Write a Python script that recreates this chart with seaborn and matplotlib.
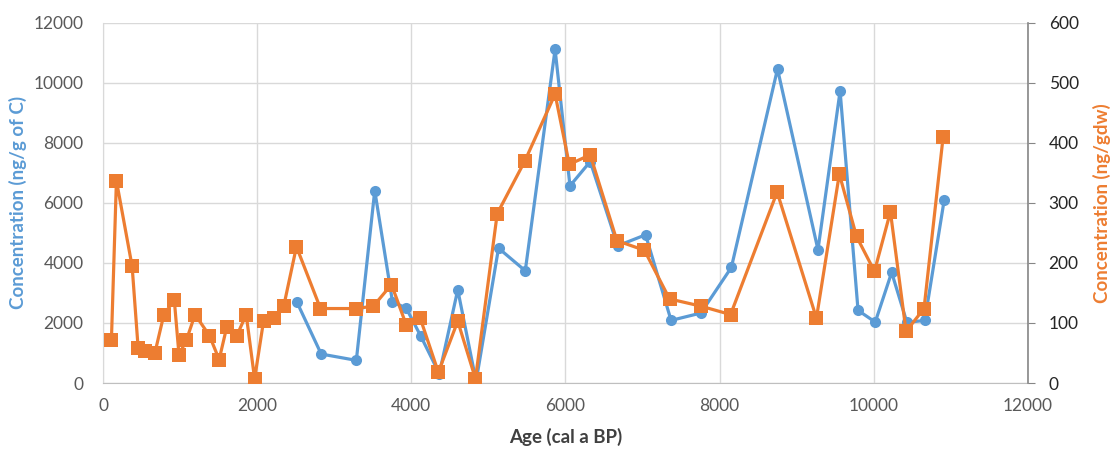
import matplotlib
matplotlib.use("Agg")
import matplotlib.pyplot as plt
import seaborn as sns
import pandas as pd

# orange series (right axis, ng/gdw)
age_gdw = [109, 174, 378, 456, 543, 673, 790, 925, 986, 1081, 1194, 1381, 1507,
           1607, 1737, 1858, 1967, 2084, 2214, 2345, 2510, 2822, 3287, 3508, 3743,
           3934, 4116, 4351, 4603, 4833, 5115, 5471, 5866, 6050, 6322, 6668, 7025,
           7351, 7757, 8143, 8747, 9257, 9554, 9777, 10010, 10217, 10420, 10653, 10901]
conc_gdw = [71, 337, 194, 58, 54, 50, 114, 138, 47, 71, 114, 79, 39,
            94, 79, 114, 7, 104, 108, 128, 227, 124, 124, 128, 164,
            97, 108, 18, 103, 7, 282, 369, 481, 364, 380, 237, 221,
            140, 128, 114, 318, 108, 348, 244, 186, 285, 86, 124, 410]

# blue series (left axis, ng/g of C)
age_c = [2518, 2831, 3287, 3526, 3756, 3934, 4125, 4364, 4603, 4841, 5132, 5479,
         5866, 6059, 6322, 6678, 7040, 7371, 7757, 8153, 8752, 9277, 9564, 9797,
         10020, 10233, 10431, 10663, 10915]
conc_c = [2684, 965, 754, 6410, 2706, 2495, 1553, 310, 3105, 55, 4491, 3737,
          11112, 6565, 7375, 4569, 4935, 2085, 2329, 3848, 10458, 4436, 9726, 2418,
          2029, 3682, 2018, 2085, 6100]

BLUE = "#5B9BD5"
ORANGE = "#ED7D31"

sns.set_style("whitegrid")
plt.rcParams["font.family"] = ["Lato", "DejaVu Sans"]

df_c = pd.DataFrame({"age": age_c, "conc": conc_c})
df_g = pd.DataFrame({"age": age_gdw, "conc": conc_gdw})

fig = plt.figure(figsize=(11.16, 4.53), dpi=100)
ax = fig.add_axes([0.0923, 0.1545, 0.8287, 0.7955])
ax2 = ax.twinx()

sns.lineplot(data=df_c, x="age", y="conc", ax=ax, color=BLUE, linewidth=2.3,
             marker="o", markersize=8, markeredgewidth=0, sort=False)
sns.lineplot(data=df_g, x="age", y="conc", ax=ax2, color=ORANGE, linewidth=2.3,
             marker="s", markersize=10, markeredgewidth=0, sort=False)

ax.set_xlim(0, 12000)
ax.set_ylim(0, 12000)
ax2.set_ylim(0, 600)
ax.set_xticks(range(0, 12001, 2000))
ax.set_yticks(range(0, 12001, 2000))
ax2.set_yticks(range(0, 601, 100))

ax.grid(True, color="#D9D9D9", linewidth=1)
ax2.grid(False)
for a in (ax, ax2):
    for s in a.spines.values():
        s.set_visible(False)
ax.spines["bottom"].set_visible(True)
ax.spines["bottom"].set_color("#BFBFBF")
ax.spines["left"].set_visible(True)
ax.spines["left"].set_color("#D9D9D9")
ax2.spines["right"].set_visible(True)
ax2.spines["right"].set_color("#868686")
ax2.spines["right"].set_linewidth(1.2)

ax.tick_params(axis="x", length=0, labelsize=12.5, labelcolor="#595959", pad=11)
ax.tick_params(axis="y", length=0, labelsize=12.5, labelcolor="#595959", pad=14)
ax2.tick_params(axis="y", length=5, color="#868686", labelsize=12.5,
                labelcolor="#262626", direction="out", pad=10)

ax.set_xlabel("Age (cal a BP)", fontsize=13.5, fontweight="bold", color="#404040", labelpad=10)
ax.set_ylabel("Concentration (ng/g of C)", fontsize=13.5, fontweight="bold", color=BLUE, labelpad=5)
ax2.set_ylabel("Concentration (ng/gdw)", fontsize=13.5, fontweight="bold", color=ORANGE, labelpad=10)

plt.savefig("out.png", dpi=100)
